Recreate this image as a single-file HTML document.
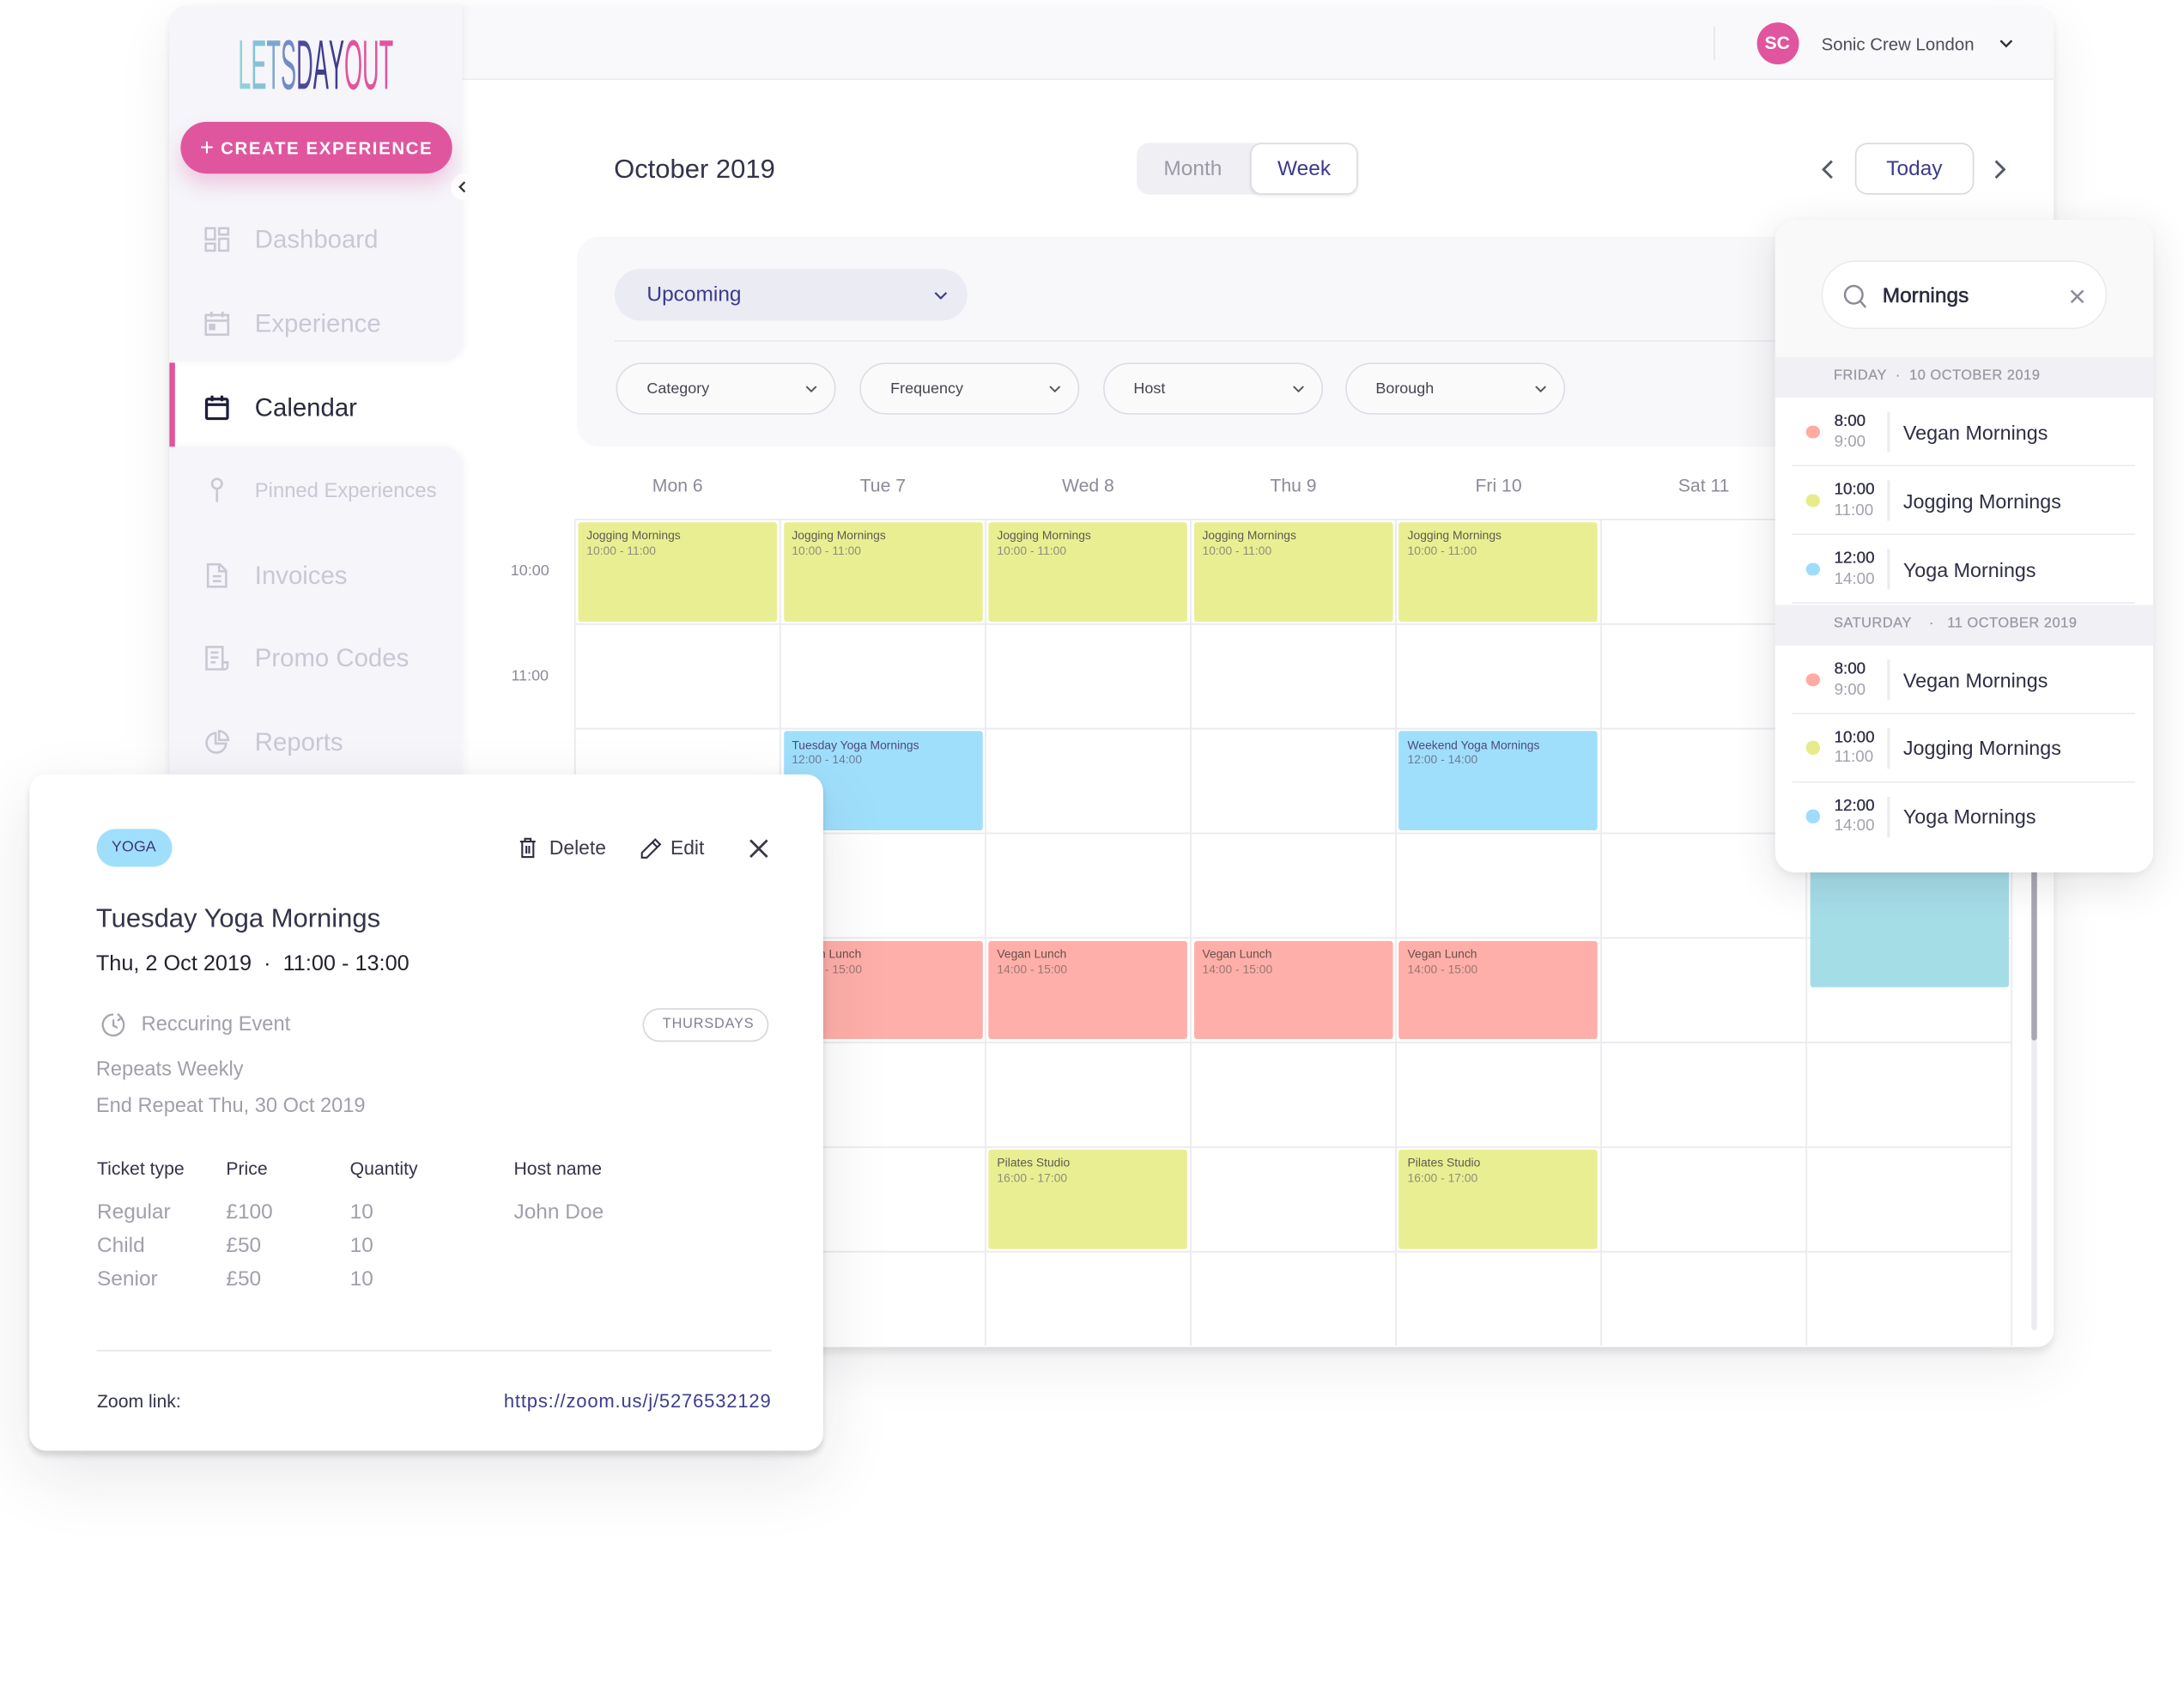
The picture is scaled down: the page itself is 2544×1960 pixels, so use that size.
<!DOCTYPE html>
<html><head><meta charset="utf-8"><title>Calendar</title>
<style>
*{margin:0;padding:0;box-sizing:border-box}
html,body{width:2544px;height:1960px;overflow:hidden;background:#fff}
#s{position:absolute;left:0;top:0;width:1560px;height:1202px;transform:scale(1.630769);transform-origin:0 0;font-family:"Liberation Sans",Arial,sans-serif;color:#33334a}
.a{position:absolute}
.t{position:absolute;white-space:nowrap;line-height:20px;height:20px}
.nav{font-size:18px;color:#c9c8d4;left:182px}
.ic{position:absolute;left:146px;width:18px;height:18px}
.ev{position:absolute;width:142px;height:70.5px;border-radius:2px;padding:4.3px 6px 0;font-size:8.5px;line-height:10.8px;white-space:nowrap;overflow:hidden}
.ev b{font-weight:normal;display:block}
.ev i{font-style:normal;display:block}
.y{background:#eaee93}.y b{color:#5c5c50}.y i{color:#8e8e78}
.bl{background:#a0dffc}.bl b{color:#4c4a7c}.bl i{color:#6d7b96}
.pk{background:#ffafa9}.pk b{color:#6a4e4c}.pk i{color:#9a7772}
.dh{font-size:13px;color:#8b8b98;width:146.6px;text-align:center;top:336.8px}
.pill{position:absolute;top:259.2px;height:36.8px;width:157px;border:1px solid #dcdce6;border-radius:18.5px;background:#fafafb}
.pill span{position:absolute;left:21px;top:7.4px;font-size:11px;line-height:20px;color:#45454f}
.pill svg{position:absolute;left:134px;top:14.5px}
.row{position:absolute;left:0;width:269.3px;height:49px}
.dot{position:absolute;left:22px;top:19.7px;width:9.6px;height:9.6px;border-radius:50%}
.t1{position:absolute;left:41.8px;top:10px;font-size:11.5px;line-height:14px;color:#2e2e45;-webkit-text-stroke:0.2px #2e2e45}
.t2{position:absolute;left:41.8px;top:24.8px;font-size:11.5px;line-height:14px;color:#a2a2ac}
.vd{position:absolute;left:80px;top:10px;width:1.5px;height:29px;background:#ececf0}
.nm{position:absolute;left:91px;top:15.5px;font-size:14.3px;line-height:20px;color:#2e2e45;white-space:nowrap}
.sep{position:absolute;left:12px;width:245px;top:48px;height:1.2px;background:#ececf0}
.dayh{position:absolute;left:0;width:269.3px;height:29.6px;background:#f1f1f5}
.dayh span{position:absolute;left:41.4px;top:7.8px;font-size:10px;line-height:14px;letter-spacing:0.35px;color:#9a9aa6;white-space:nowrap;-webkit-text-stroke:0.2px #9a9aa6}
.pp{position:absolute;white-space:nowrap;line-height:20px;height:20px}
</style></head>
<body>
<div id="s">

<!-- main window -->
<div class="a" style="left:121px;top:4px;width:1345.5px;height:957.5px;background:#fff;border-radius:12px;box-shadow:0 4px 6px rgba(0,0,0,0.09),0 14px 40px rgba(30,30,60,0.07)"></div>

<!-- header -->
<div class="a" style="left:330px;top:4px;width:1136.5px;height:52.8px;background:#f9f9fb;border-bottom:1px solid #ececf0;border-radius:0 12px 0 0"></div>
<div class="a" style="left:1224px;top:19.4px;width:1px;height:24px;background:#e4e4e9"></div>
<div class="a" style="left:1254.5px;top:16px;width:30px;height:30px;border-radius:50%;background:#e0559e;color:#fff;font-weight:bold;font-size:13px;line-height:30px;text-align:center">SC</div>
<div class="t" style="left:1301px;top:21.5px;font-size:12.5px;color:#4b4b58">Sonic Crew London</div>
<svg class="a" style="left:1428px;top:27.5px" width="10" height="7"><polyline points="1,1 5,5 9,1" fill="none" stroke="#333" stroke-width="1.5"/></svg>

<!-- sidebar segments -->
<div class="a" style="left:121px;top:4px;width:209px;height:254px;background:#f5f5fa;border-radius:12px 0 14px 0;box-shadow:2px 0 5px rgba(60,60,90,0.05)"></div>
<div class="a" style="left:121px;top:319px;width:209px;height:642.5px;background:#f5f5fa;border-radius:0 14px 0 12px;box-shadow:2px 0 5px rgba(60,60,90,0.05)"></div>
<div class="a" style="left:121px;top:259px;width:4px;height:60px;background:#e0559e"></div>
<div class="a" style="left:321.5px;top:124px;width:19px;height:19px;border-radius:50%;background:#fff"></div>
<svg class="a" style="left:327px;top:128.5px" width="7" height="9"><polyline points="5,1 1.5,4.5 5,8" fill="none" stroke="#333" stroke-width="1.4"/></svg>

<!-- logo -->
<svg class="a" style="left:170px;top:22px" width="114" height="48"><text x="0" y="41.5" font-size="50" textLength="111" lengthAdjust="spacingAndGlyphs" font-family="Liberation Sans, sans-serif"><tspan fill="#8fd3d9">L</tspan><tspan fill="#86c1d6">E</tspan><tspan fill="#7ca6cf">T</tspan><tspan fill="#708cc4">S</tspan><tspan fill="#4b4a9a">D</tspan><tspan fill="#403d8e">A</tspan><tspan fill="#3f3c8c">Y</tspan><tspan fill="#e0559e">O</tspan><tspan fill="#e0559e">U</tspan><tspan fill="#e0559e">T</tspan></text></svg>

<!-- create button -->
<div class="a" style="left:129px;top:87.3px;width:194px;height:37px;border-radius:19px;background:#e0569e;box-shadow:0 8px 14px rgba(224,85,158,0.28);color:#fff;text-align:center;line-height:37px;white-space:nowrap"><span style="font-size:17px;vertical-align:top">+</span><span style="font-size:12.5px;font-weight:bold;letter-spacing:1px;margin-left:5px">CREATE EXPERIENCE</span></div>

<!-- sidebar nav -->
<svg class="ic" style="top:162px" viewBox="0 0 18 18"><g fill="none" stroke="#c9c8d4" stroke-width="1.6"><rect x="1" y="1" width="6.5" height="8"/><rect x="10.5" y="1" width="6.5" height="4.5"/><rect x="1" y="12" width="6.5" height="5"/><rect x="10.5" y="8.5" width="6.5" height="8.5"/></g></svg>
<div class="t nav" style="top:161px">Dashboard</div>
<svg class="ic" style="top:222px" viewBox="0 0 18 18"><g fill="none" stroke="#c9c8d4" stroke-width="1.6"><rect x="1" y="3" width="16" height="14"/><line x1="1" y1="7" x2="17" y2="7"/><line x1="5" y1="0.5" x2="5" y2="4.5"/><line x1="13" y1="0.5" x2="13" y2="4.5"/><rect x="4" y="10" width="3" height="3" fill="#c9c8d4"/></g></svg>
<div class="t nav" style="top:221px">Experience</div>
<svg class="ic" style="top:282px" viewBox="0 0 18 18"><g fill="none" stroke="#1e1e3a" stroke-width="2"><rect x="1.5" y="3" width="15" height="14" rx="1"/><line x1="1.5" y1="7" x2="16.5" y2="7"/><line x1="5.5" y1="0.5" x2="5.5" y2="4.5"/><line x1="12.5" y1="0.5" x2="12.5" y2="4.5"/></g></svg>
<div class="t nav" style="top:281px;color:#2a2a3e">Calendar</div>
<svg class="ic" style="top:341px" viewBox="0 0 18 18"><g fill="none" stroke="#c9c8d4" stroke-width="1.6"><circle cx="9" cy="4.5" r="3.5"/><line x1="9" y1="8" x2="9" y2="17.5"/></g></svg>
<div class="t nav" style="top:340.5px;font-size:14.6px">Pinned Experiences</div>
<svg class="ic" style="top:401.8px" viewBox="0 0 18 18"><g fill="none" stroke="#c9c8d4" stroke-width="1.6"><path d="M2.5 1 H11 L15.5 5.5 V17 H2.5 Z"/><path d="M10.5 1 V6 H15.5"/><line x1="6" y1="9.5" x2="12" y2="9.5"/><line x1="6" y1="13" x2="12" y2="13"/></g></svg>
<div class="t nav" style="top:400.8px">Invoices</div>
<svg class="ic" style="top:461.2px" viewBox="0 0 18 18"><g fill="none" stroke="#c9c8d4" stroke-width="1.6"><path d="M1.5 1 H13 V17 H1.5 Z"/><path d="M13 12 H16.5 V15 A2 2 0 0 1 14.5 17 H13"/><line x1="4.5" y1="5" x2="10" y2="5"/><line x1="4.5" y1="8.5" x2="10" y2="8.5"/><line x1="4.5" y1="12" x2="8" y2="12"/></g></svg>
<div class="t nav" style="top:460.2px">Promo Codes</div>
<svg class="ic" style="top:520.6px" viewBox="0 0 18 18"><g fill="none" stroke="#c9c8d4" stroke-width="1.6"><path d="M8 2.5 A7 7 0 1 0 15.5 10 H8 Z"/><path d="M10.5 1 A7 7 0 0 1 17 7.5 H10.5 Z"/></g></svg>
<div class="t nav" style="top:519.6px">Reports</div>

<!-- title & toolbar -->
<div class="t" style="left:438.5px;top:109.5px;line-height:24px;height:24px;font-size:19px;color:#33334a">October 2019</div>
<div class="a" style="left:812.3px;top:101.8px;width:157.7px;height:37.4px;border-radius:9px;background:#f0f0f4"></div>
<div class="a" style="left:893px;top:102px;width:77px;height:37px;border-radius:8px;background:#fff;border:1px solid #dcdce4;box-shadow:0 1px 2px rgba(0,0,0,0.08)"></div>
<div class="t" style="left:812px;width:80px;text-align:center;top:110.5px;font-size:15px;color:#9a9aa6">Month</div>
<div class="t" style="left:893px;width:77px;text-align:center;top:110.5px;font-size:15px;color:#3b3a8c">Week</div>
<svg class="a" style="left:1300.5px;top:113.6px" width="9" height="14"><polyline points="7.5,1 1.5,7 7.5,13" fill="none" stroke="#555a66" stroke-width="1.8"/></svg>
<div class="a" style="left:1325px;top:102.2px;width:84.8px;height:36.8px;border-radius:9px;border:1px solid #d8d8e0;background:#fff"></div>
<div class="t" style="left:1325px;width:84.8px;text-align:center;top:110.6px;font-size:15px;color:#3b3a8c">Today</div>
<svg class="a" style="left:1423.5px;top:113.6px" width="9" height="14"><polyline points="1.5,1 7.5,7 1.5,13" fill="none" stroke="#555a66" stroke-width="1.8"/></svg>

<!-- filter panel -->
<div class="a" style="left:412px;top:169.2px;width:1040px;height:149.7px;border-radius:16px;background:#f8f8fa"></div>
<div class="a" style="left:438.9px;top:191.7px;width:251.8px;height:37.6px;border-radius:19px;background:#ebebf3"></div>
<div class="t" style="left:462px;top:200.5px;font-size:15px;color:#3b3a8c">Upcoming</div>
<svg class="a" style="left:667px;top:207.5px" width="10" height="6"><polyline points="1,1 5,5 9,1" fill="none" stroke="#3b3a8c" stroke-width="1.3"/></svg>
<div class="a" style="left:438.9px;top:243.2px;width:1000px;height:1px;background:#e8e8ee"></div>
<div class="pill" style="left:440px"><span>Category</span><svg width="9" height="6"><polyline points="1,1 4.5,4.5 8,1" fill="none" stroke="#555" stroke-width="1.2"/></svg></div>
<div class="pill" style="left:614px"><span>Frequency</span><svg width="9" height="6"><polyline points="1,1 4.5,4.5 8,1" fill="none" stroke="#555" stroke-width="1.2"/></svg></div>
<div class="pill" style="left:787.7px"><span>Host</span><svg width="9" height="6"><polyline points="1,1 4.5,4.5 8,1" fill="none" stroke="#555" stroke-width="1.2"/></svg></div>
<div class="pill" style="left:960.6px"><span>Borough</span><svg width="9" height="6"><polyline points="1,1 4.5,4.5 8,1" fill="none" stroke="#555" stroke-width="1.2"/></svg></div>

<!-- day headers -->
<div class="t dh" style="left:410.7px">Mon 6</div>
<div class="t dh" style="left:557.3px">Tue 7</div>
<div class="t dh" style="left:703.9px">Wed 8</div>
<div class="t dh" style="left:850.5px">Thu 9</div>
<div class="t dh" style="left:997.1px">Fri 10</div>
<div class="t dh" style="left:1143.7px">Sat 11</div>
<div class="t dh" style="left:1290.3px">Sun 12</div>

<!-- grid -->
<svg class="a" style="left:0;top:0" width="1560" height="1202">
<g stroke="#ececf0" stroke-width="1.2">
<line x1="410.7" y1="371" x2="1436.9" y2="371"/>
<line x1="410.7" y1="445.7" x2="1436.9" y2="445.7"/>
<line x1="410.7" y1="520.4" x2="1436.9" y2="520.4"/>
<line x1="410.7" y1="595.1" x2="1436.9" y2="595.1"/>
<line x1="410.7" y1="669.8" x2="1436.9" y2="669.8"/>
<line x1="410.7" y1="744.5" x2="1436.9" y2="744.5"/>
<line x1="410.7" y1="819.2" x2="1436.9" y2="819.2"/>
<line x1="410.7" y1="893.9" x2="1436.9" y2="893.9"/>
<line x1="410.7" y1="371" x2="410.7" y2="961"/>
<line x1="557.3" y1="371" x2="557.3" y2="961"/>
<line x1="703.9" y1="371" x2="703.9" y2="961"/>
<line x1="850.5" y1="371" x2="850.5" y2="961"/>
<line x1="997.1" y1="371" x2="997.1" y2="961"/>
<line x1="1143.7" y1="371" x2="1143.7" y2="961"/>
<line x1="1290.3" y1="371" x2="1290.3" y2="961"/>
<line x1="1436.9" y1="371" x2="1436.9" y2="961"/>
</g></svg>
<div class="t" style="left:360px;width:37px;text-align:center;top:398px;font-size:11px;color:#8b8b98">10:00</div>
<div class="t" style="left:360px;width:37px;text-align:center;top:473px;font-size:11px;color:#8b8b98">11:00</div>

<!-- events -->
<div class="ev y" style="left:413px;top:373px"><b>Jogging Mornings</b><i>10:00 - 11:00</i></div>
<div class="ev y" style="left:559.6px;top:373px"><b>Jogging Mornings</b><i>10:00 - 11:00</i></div>
<div class="ev y" style="left:706.2px;top:373px"><b>Jogging Mornings</b><i>10:00 - 11:00</i></div>
<div class="ev y" style="left:852.8px;top:373px"><b>Jogging Mornings</b><i>10:00 - 11:00</i></div>
<div class="ev y" style="left:999.4px;top:373px"><b>Jogging Mornings</b><i>10:00 - 11:00</i></div>
<div class="ev bl" style="left:559.6px;top:522.4px"><b>Tuesday Yoga Mornings</b><i>12:00 - 14:00</i></div>
<div class="ev bl" style="left:999.4px;top:522.4px"><b>Weekend Yoga Mornings</b><i>12:00 - 14:00</i></div>
<div class="ev pk" style="left:559.6px;top:671.8px"><b>Vegan Lunch</b><i>14:00 - 15:00</i></div>
<div class="ev pk" style="left:706.2px;top:671.8px"><b>Vegan Lunch</b><i>14:00 - 15:00</i></div>
<div class="ev pk" style="left:852.8px;top:671.8px"><b>Vegan Lunch</b><i>14:00 - 15:00</i></div>
<div class="ev pk" style="left:999.4px;top:671.8px"><b>Vegan Lunch</b><i>14:00 - 15:00</i></div>
<div class="ev y" style="left:706.2px;top:821.2px"><b>Pilates Studio</b><i>16:00 - 17:00</i></div>
<div class="ev y" style="left:999.4px;top:821.2px"><b>Pilates Studio</b><i>16:00 - 17:00</i></div>
<div class="a" style="left:1292.6px;top:597px;width:142px;height:108px;border-radius:2px;background:#a5dde7"></div>

<!-- scrollbar -->
<div class="a" style="left:1451px;top:380px;width:3.5px;height:570px;border-radius:2px;background:#ededf1"></div>
<div class="a" style="left:1451px;top:380px;width:3.5px;height:362.6px;border-radius:2px;background:#a8a8b2"></div>

<!-- search panel -->
<div class="a" style="left:1268.4px;top:156.5px;width:269.3px;height:466px;border-radius:14px;background:#fff;overflow:hidden;box-shadow:0 8px 30px rgba(30,30,60,0.12),0 2px 6px rgba(0,0,0,0.05)">
  <div class="a" style="left:0;top:0;width:269.3px;height:98px;background:#f9f9fa"></div>
  <div class="a" style="left:32.6px;top:29.9px;width:204px;height:48.6px;border-radius:24.3px;background:#fff;border:1.5px solid #ebebef"></div>
  <svg class="a" style="left:0;top:0" width="269" height="98"><g fill="none" stroke="#8a8a96" stroke-width="1.5"><circle cx="56.1" cy="53.5" r="6.3"/><line x1="60.6" y1="58" x2="64.6" y2="62.5"/><line x1="211.5" y1="50.5" x2="220" y2="59"/><line x1="220" y1="50.5" x2="211.5" y2="59"/></g></svg>
  <div class="t" style="left:76.2px;top:45px;font-size:15px;color:#2b2b40;-webkit-text-stroke:0.35px #2b2b40">Mornings</div>

  <div class="dayh" style="top:98px"><span>FRIDAY &nbsp;·&nbsp; 10 OCTOBER 2019</span></div>
  <div class="row" style="top:127.6px"><div class="dot" style="background:#ffaaa3"></div><div class="t1">8:00</div><div class="t2">9:00</div><div class="vd"></div><div class="nm">Vegan Mornings</div><div class="sep"></div></div>
  <div class="row" style="top:176.7px"><div class="dot" style="background:#e6ec8a"></div><div class="t1">10:00</div><div class="t2">11:00</div><div class="vd"></div><div class="nm">Jogging Mornings</div><div class="sep"></div></div>
  <div class="row" style="top:225.5px"><div class="dot" style="background:#9fdcfb"></div><div class="t1">12:00</div><div class="t2">14:00</div><div class="vd"></div><div class="nm">Yoga Mornings</div><div class="sep"></div></div>

  <div class="dayh" style="top:275px"><span>SATURDAY &nbsp;&nbsp; · &nbsp;&nbsp;11 OCTOBER 2019</span></div>
  <div class="row" style="top:304.5px"><div class="dot" style="background:#ffaaa3"></div><div class="t1">8:00</div><div class="t2">9:00</div><div class="vd"></div><div class="nm">Vegan Mornings</div><div class="sep"></div></div>
  <div class="row" style="top:353.1px"><div class="dot" style="background:#e6ec8a"></div><div class="t1">10:00</div><div class="t2">11:00</div><div class="vd"></div><div class="nm">Jogging Mornings</div><div class="sep"></div></div>
  <div class="row" style="top:402.1px"><div class="dot" style="background:#9fdcfb"></div><div class="t1">12:00</div><div class="t2">14:00</div><div class="vd"></div><div class="nm">Yoga Mornings</div></div>
</div>

<!-- popup -->
<div class="a" style="left:21.4px;top:553px;width:566.6px;height:483px;border-radius:12px;background:#fff;box-shadow:0 4px 4px rgba(0,0,0,0.11),0 18px 50px rgba(30,30,60,0.10),0 0 10px rgba(0,0,0,0.04)">
  <div class="a" style="left:47.2px;top:39px;width:54px;height:27px;border-radius:13.5px;background:#a0dffc;color:#3b3a7a;font-size:11px;line-height:27px;text-align:center">YOGA</div>
  <svg class="a" style="left:350px;top:45px" width="12" height="15"><g fill="none" stroke="#2e2e45" stroke-width="1.3"><line x1="0.5" y1="3" x2="11.5" y2="3"/><path d="M4 3 V1 H8 V3"/><path d="M2 3 V14 H10 V3"/><line x1="5" y1="6" x2="5" y2="11.5"/><line x1="7" y1="6" x2="7" y2="11.5"/></g></svg>
  <div class="pp" style="left:371px;top:42px;font-size:14px;color:#3a3a48">Delete</div>
  <svg class="a" style="left:435.5px;top:44.5px" width="16" height="16"><g fill="none" stroke="#2e2e45" stroke-width="1.3"><path d="M11 1.5 L14.5 5 L5 14.5 L1.5 14.5 L1.5 11 Z"/><line x1="9" y1="3.5" x2="12.5" y2="7"/></g></svg>
  <div class="pp" style="left:457.5px;top:42px;font-size:14px;color:#3a3a48">Edit</div>
  <svg class="a" style="left:513.6px;top:45.5px" width="14" height="14"><g stroke="#3a3a48" stroke-width="1.7"><line x1="1" y1="1" x2="13" y2="13"/><line x1="13" y1="1" x2="1" y2="13"/></g></svg>

  <div class="pp" style="left:47.2px;top:92px;line-height:24px;height:24px;font-size:19px;color:#33334a">Tuesday Yoga Mornings</div>
  <div class="pp" style="left:47.2px;top:125.5px;font-size:15.5px;color:#22222e">Thu, 2 Oct 2019 &nbsp;·&nbsp; 11:00 - 13:00</div>

  <svg class="a" style="left:50.6px;top:169.5px" width="18" height="18"><g fill="none" stroke="#a6a6b0" stroke-width="1.4"><path d="M14.5 4 A7.5 7.5 0 1 1 9 1.5"/><polyline points="9,5 9,9.5 12,11"/><polyline points="12,1 14.8,3.8 12,6"/></g></svg>
  <div class="pp" style="left:79.6px;top:168.5px;font-size:14.5px;color:#a0a0aa">Reccuring Event</div>
  <div class="a" style="left:437.6px;top:166.5px;width:90px;height:24px;border-radius:12px;border:1.3px solid #d6d6dc;color:#808090;font-size:10px;letter-spacing:0.5px;line-height:21.5px;text-align:center;padding-left:4px">THURSDAYS</div>
  <div class="pp" style="left:47.2px;top:200.5px;font-size:14.5px;color:#a0a0aa">Repeats Weekly</div>
  <div class="pp" style="left:47.2px;top:226.5px;font-size:14.5px;color:#a0a0aa">End Repeat Thu, 30 Oct 2019</div>

  <div class="pp" style="left:47.9px;top:272px;font-size:13px;color:#33334a">Ticket type</div>
  <div class="pp" style="left:140.1px;top:272px;font-size:13px;color:#33334a">Price</div>
  <div class="pp" style="left:228.6px;top:272px;font-size:13px;color:#33334a">Quantity</div>
  <div class="pp" style="left:345.6px;top:272px;font-size:13px;color:#33334a">Host name</div>

  <div class="pp" style="left:47.9px;top:303px;font-size:15px;color:#a0a0aa">Regular</div>
  <div class="pp" style="left:140.1px;top:303px;font-size:15px;color:#a0a0aa">£100</div>
  <div class="pp" style="left:228.6px;top:303px;font-size:15px;color:#a0a0aa">10</div>
  <div class="pp" style="left:345.6px;top:303px;font-size:15px;color:#a0a0aa">John Doe</div>
  <div class="pp" style="left:47.9px;top:327px;font-size:15px;color:#a0a0aa">Child</div>
  <div class="pp" style="left:140.1px;top:327px;font-size:15px;color:#a0a0aa">£50</div>
  <div class="pp" style="left:228.6px;top:327px;font-size:15px;color:#a0a0aa">10</div>
  <div class="pp" style="left:47.9px;top:350.5px;font-size:15px;color:#a0a0aa">Senior</div>
  <div class="pp" style="left:140.1px;top:350.5px;font-size:15px;color:#a0a0aa">£50</div>
  <div class="pp" style="left:228.6px;top:350.5px;font-size:15px;color:#a0a0aa">10</div>

  <div class="a" style="left:47.9px;top:411px;width:482px;height:1.2px;background:#e4e4ea"></div>
  <div class="pp" style="left:47.9px;top:437.5px;font-size:13px;color:#33334a">Zoom link:</div>
  <div class="pp" style="left:250px;width:279.6px;text-align:right;top:437.5px;font-size:13.5px;letter-spacing:0.5px;color:#3d3c8c">https://zoom.us/j/5276532129</div>
</div>

</div>
</body></html>
